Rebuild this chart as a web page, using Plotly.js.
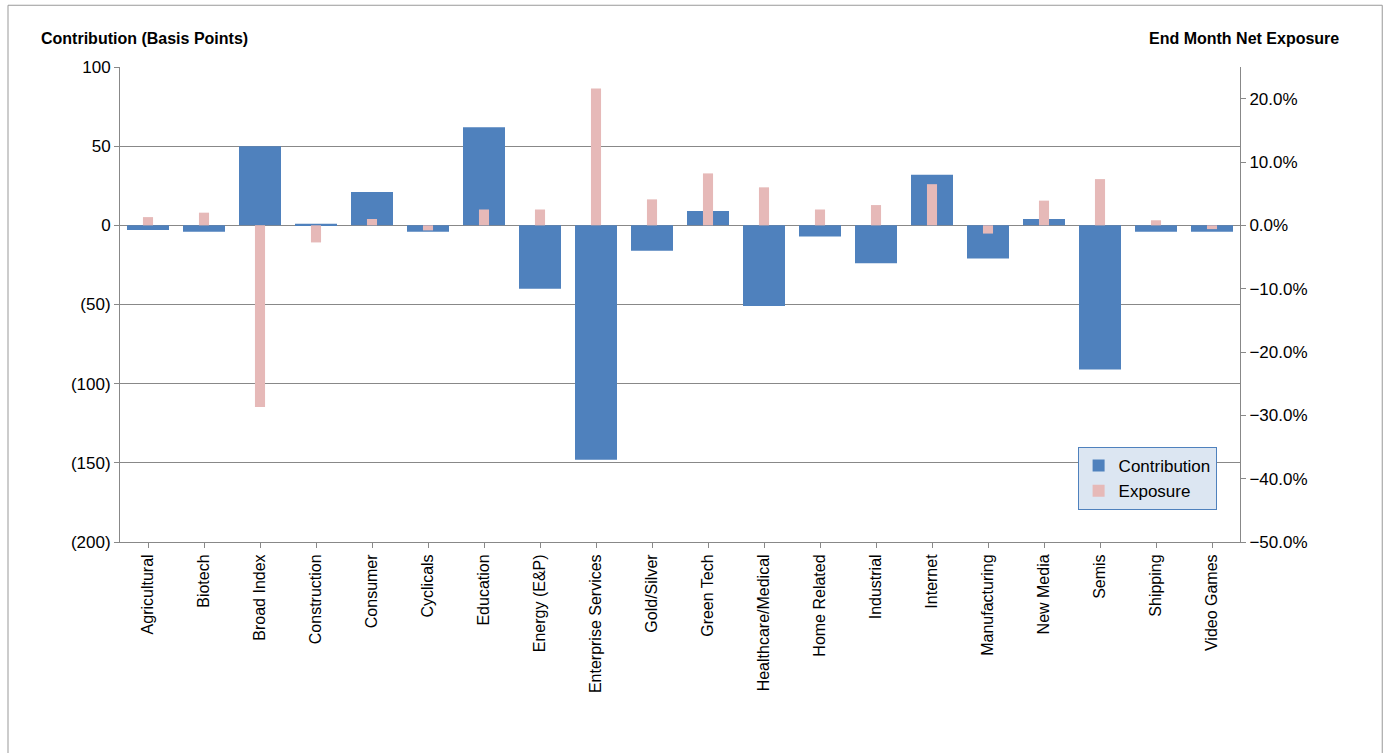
<!DOCTYPE html>
<html>
<head>
<meta charset="utf-8">
<script src="https://cdn.plot.ly/plotly-3.0.1.min.js"></script>
<style>
  html, body { margin: 0; padding: 0; background: #fff; }
  #chart { width: 1384px; height: 753px; }
</style>
</head>
<body>
<div id="chart"></div>
<script>
// sectors
const sectors = ['Agricultural', 'Biotech', 'Broad Index', 'Construction', 'Consumer', 'Cyclicals',
  'Education', 'Energy (E&P)', 'Enterprise Services', 'Gold/Silver', 'Green Tech', 'Healthcare/Medical',
  'Home Related', 'Industrial', 'Internet', 'Manufacturing', 'New Media', 'Semis', 'Shipping', 'Video Games'];

// contribution, basis points
const contribution = [-3, -4, 50, 1, 21, -4, 62, -40, -148, -16, 9, -51, -7, -24, 32, -21, 4, -91, -4, -4];

// end month net exposure, fraction
const exposure = [0.013, 0.020, -0.287, -0.027, 0.010, -0.008, 0.025, 0.025, 0.216, 0.041, 0.082, 0.060,
  0.025, 0.032, 0.065, -0.013, 0.039, 0.073, 0.008, -0.006];

const leftTicks = [100, 50, 0, -50, -100, -150, -200];
const leftLabels = ['100', '50', '0', '(50)', '(100)', '(150)', '(200)'];

const FONT = 'Liberation Sans, Arial, sans-serif';

const traces = [
  {
    x: sectors, y: contribution, name: 'Contribution', type: 'bar',
    marker: { color: '#4f81bd' }, width: 0.75, yaxis: 'y',
  },
  {
    x: sectors, y: exposure, name: 'Exposure', type: 'bar',
    marker: { color: '#e6b9b8' }, width: 0.18, yaxis: 'y2',
  },
];

const layout = {
  width: 1384, height: 753,
  margin: { t: 67, r: 144, b: 211, l: 120 },
  paper_bgcolor: '#ffffff', plot_bgcolor: '#ffffff',
  barmode: 'overlay',
  font: { family: FONT, size: 15, color: '#000' },
  xaxis: {
    tickangle: -90, showline: true, linecolor: '#888', ticks: 'outside', ticklen: 5, tickcolor: '#888',
    tickfont: { size: 16 },
  },
  yaxis: {
    range: [-200, 100], tickvals: leftTicks, ticktext: leftLabels,
    showgrid: true, gridcolor: '#888', zeroline: false,
    showline: true, linecolor: '#888', ticks: 'outside', ticklen: 5, tickcolor: '#888',
    tickfont: { size: 17 },
  },
  yaxis2: {
    overlaying: 'y', side: 'right', range: [-0.5, 0.25], dtick: 0.1, tickformat: '.1%',
    showgrid: false, zeroline: false,
    showline: true, linecolor: '#888', ticks: 'outside', ticklen: 5, tickcolor: '#888',
    tickfont: { size: 17 },
  },
  showlegend: true,
  legend: {
    x: 0.855, y: 0.20, xanchor: 'left', yanchor: 'top',
    bgcolor: '#dce6f2', bordercolor: '#4f81bd', borderwidth: 1,
    font: { size: 17 }, tracegroupgap: 14, itemwidth: 30,
  },
  annotations: [
    { text: '<b>Contribution (Basis Points)</b>', xref: 'paper', yref: 'paper', x: -0.072, y: 1.061,
      xanchor: 'left', yanchor: 'middle', showarrow: false, font: { size: 16 } },
    { text: '<b>End Month Net Exposure</b>', xref: 'paper', yref: 'paper', x: 1.09, y: 1.061,
      xanchor: 'right', yanchor: 'middle', showarrow: false, font: { size: 16 } },
  ],
  shapes: [
    { type: 'rect', xref: 'paper', yref: 'paper', x0: -0.1, x1: 1.127, y0: -0.78, y1: 1.13,
      line: { color: '#999', width: 1 } },
  ],
};

Plotly.newPlot('chart', traces, layout, { displayModeBar: false });
</script>
</body>
</html>
